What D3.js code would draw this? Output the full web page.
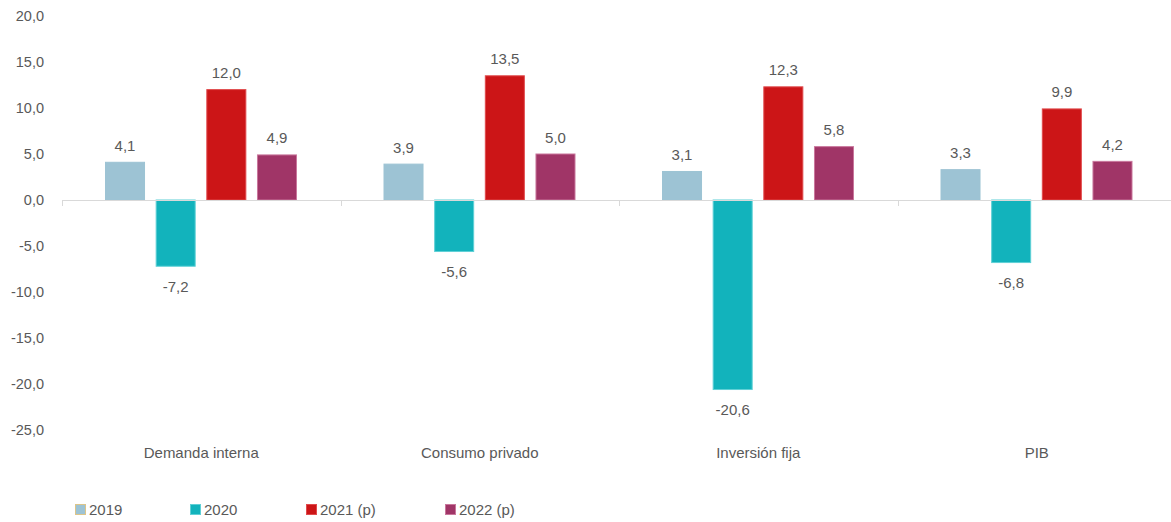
<!DOCTYPE html>
<html><head><meta charset="utf-8">
<script src="https://cdn.jsdelivr.net/npm/d3@7"></script>
<style>body{margin:0;background:#fff}svg{display:block;font-family:"Liberation Sans",Arial,sans-serif}</style>
</head><body><svg id="c" width="1171" height="522"></svg>
<script>
const categories = ["Demanda interna","Consumo privado","Inversión fija","PIB"];
const seriesNames = ["2019","2020","2021 (p)","2022 (p)"];
const s2019 = [4.1, 3.9, 3.1, 3.3];
const s2020 = [-7.2, -5.6, -20.6, -6.8];
const s2021 = [12.0, 13.5, 12.3, 9.9];
const s2022 = [4.9, 5.0, 5.8, 4.2];
const yTicks = [20,15,10,5,0,-5,-10,-15,-20,-25];
const colors = ["#9DC3D4","#12B3BC","#CC1517","#A03567"];
const strokes = ["#9DC3D4","#5fd0d6","#e04a4c","#c9779c"];

const series = [s2019,s2020,s2021,s2022];
const svg = d3.select("#c");
const fmt = v => d3.format(".1f")(v).replace(".", ",").replace("\u2212","-");
const x = d3.scaleBand().domain(categories).range([62,1176]).paddingInner(0).paddingOuter(0);
const xs = d3.scaleBand().domain(seriesNames).range([43, 235]).paddingInner(0.21).paddingOuter(0);
const y = d3.scaleLinear().domain([-25,20]).range([430,16]);
const txt = "#595959";

// y labels
svg.append("g").selectAll("text").data(yTicks).join("text")
  .attr("x", 44).attr("y", d=>y(d)).attr("dy","0.35em").attr("text-anchor","end")
  .attr("font-size",14.5).attr("fill",txt).text(fmt);

// bars
categories.forEach((c,ci)=>{
  series.forEach((s,si)=>{
    const v = s[ci];
    const bx = x(c)+xs(seriesNames[si]);
    svg.append("rect").attr("x",bx+0.5).attr("width",xs.bandwidth()-1)
      .attr("y",Math.min(y(v),y(0))).attr("height",Math.abs(y(v)-y(0)))
      .attr("fill",colors[si]).attr("stroke",strokes[si]).attr("stroke-width",1);
    svg.append("text").attr("x",bx+xs.bandwidth()/2)
      .attr("y", v>=0 ? y(v)-11.5 : y(v)+25.5)
      .attr("text-anchor","middle").attr("font-size",15).attr("fill",txt).text(fmt(v));
  });
});

// zero axis
svg.append("line").attr("x1",62).attr("x2",1176).attr("y1",y(0)+0.5).attr("y2",y(0)+0.5)
  .attr("stroke","#d9d9d9").attr("stroke-width",1);
const bounds = categories.map(c=>x(c)).concat([x.range()[1]]);
svg.append("g").selectAll("line").data(bounds).join("line")
  .attr("x1",d=>Math.round(d)+0.5).attr("x2",d=>Math.round(d)+0.5)
  .attr("y1",y(0)).attr("y2",y(0)+6).attr("stroke","#d9d9d9");

// category labels
svg.append("g").selectAll("text").data(categories).join("text")
  .attr("x",d=>x(d)+x.bandwidth()/2).attr("y",458).attr("text-anchor","middle")
  .attr("font-size",15).attr("fill",txt).text(d=>d);

// legend
const legX = [75,190,306,445];
seriesNames.forEach((n,i)=>{
  const g = svg.append("g").attr("transform",`translate(${legX[i]},504)`);
  g.append("rect").attr("x",0.5).attr("y",0.5).attr("width",10).attr("height",10)
    .attr("fill",colors[i]).attr("stroke", i===0 ? "#dcc58a" : strokes[i]);
  g.append("text").attr("x",14).attr("y",11).attr("font-size",15).attr("fill",txt).text(n);
});
</script></body></html>
